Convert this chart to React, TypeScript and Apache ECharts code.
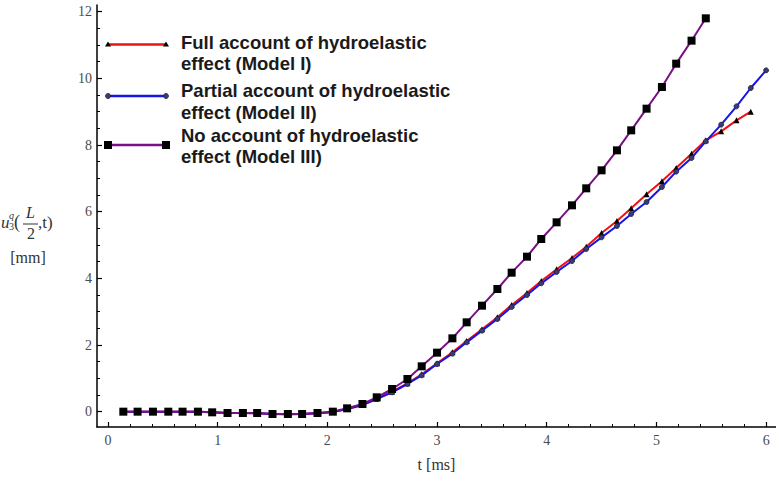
import React, { useEffect, useRef } from "react";
import * as echarts from "echarts";

// Time samples [ms]
const tValues = [
  0.14, 0.27, 0.41, 0.55, 0.68, 0.82, 0.95, 1.09, 1.23, 1.36, 1.5, 1.64, 1.77, 1.91, 2.05,
  2.18, 2.32, 2.45, 2.59, 2.73, 2.86, 3.0, 3.14, 3.27, 3.41, 3.55, 3.68, 3.82, 3.95, 4.09,
  4.23, 4.36, 4.5, 4.64, 4.77, 4.91, 5.05, 5.18, 5.32, 5.45, 5.59, 5.73, 5.86, 6.0,
];

// Deflection at mid-span [mm]
const modelI = [
  0, 0, 0, 0, 0, 0, -0.02, -0.04, -0.04, -0.05, -0.07, -0.08, -0.07, -0.05, -0.01, 0.08, 0.2,
  0.39, 0.6, 0.85, 1.12, 1.45, 1.78, 2.12, 2.47, 2.83, 3.2, 3.56, 3.92, 4.27, 4.61, 4.95, 5.36,
  5.72, 6.1, 6.52, 6.91, 7.31, 7.74, 8.14, 8.41, 8.74, 9.0,
];
const modelII = [
  0, 0, 0, 0, 0, 0, -0.02, -0.04, -0.04, -0.05, -0.07, -0.08, -0.07, -0.05, -0.01, 0.08, 0.2,
  0.38, 0.58, 0.83, 1.09, 1.43, 1.74, 2.08, 2.43, 2.78, 3.14, 3.5, 3.85, 4.19, 4.52, 4.88, 5.23,
  5.57, 5.93, 6.29, 6.74, 7.2, 7.61, 8.11, 8.61, 9.16, 9.71, 10.24,
];
const modelIII = [
  0, 0, 0, 0, 0, 0, -0.02, -0.04, -0.04, -0.04, -0.07, -0.07, -0.07, -0.04, 0.0, 0.1, 0.23,
  0.43, 0.68, 0.98, 1.36, 1.77, 2.2, 2.68, 3.18, 3.68, 4.17, 4.65, 5.18, 5.68, 6.19, 6.7, 7.24,
  7.84, 8.44, 9.09, 9.74, 10.44, 11.13, 11.8,
];

const seriesNames = [
  ["Full account of hydroelastic", "effect (Model I)"],
  ["Partial account of hydroelastic", "effect (Model II)"],
  ["No account of hydroelastic", "effect (Model III)"],
];

const xMajorTicks = [0, 1, 2, 3, 4, 5, 6];
const yMajorTicks = [0, 2, 4, 6, 8, 10, 12];

const RED = "#ee1111";
const BLUE = "#1515e6";
const PURPLE = "#7a0f86";
const CIRCLE_FILL = "#3b3b6e";

const pairs = (vals: number[]) => vals.map((v, i) => [tValues[i], v]);

const X_MIN = -0.1;
const X_MAX = 6.09;
const Y_MIN = -0.46;
const Y_MAX = 12.2;

const serif = "'Liberation Serif', 'DejaVu Serif', serif";
const sans = "'Liberation Sans', Arial, sans-serif";

function legendEntry(idx: number, cy: number, marker: any[], textTop: number, color: string) {
  return [
    {
      type: "line",
      shape: { x1: 108, y1: cy, x2: 166, y2: cy },
      style: { stroke: color, lineWidth: 2.5 },
      z: 10,
    },
    ...marker,
    {
      type: "text",
      x: 181,
      y: textTop,
      style: {
        text: seriesNames[idx].join("\n"),
        font: `bold 18.5px ${sans}`,
        fill: "#1a1a1a",
        lineHeight: 21.5,
        verticalAlign: "middle",
      },
      z: 10,
    },
  ];
}

function tri(cx: number, cy: number) {
  return {
    type: "polygon",
    shape: { points: [[cx, cy - 3], [cx - 3, cy + 2], [cx + 3, cy + 2]] },
    style: { fill: "#000" },
    z: 11,
  };
}
function circ(cx: number, cy: number) {
  return {
    type: "circle",
    shape: { cx, cy, r: 2.5 },
    style: { fill: CIRCLE_FILL, stroke: "#202040", lineWidth: 0.8 },
    z: 11,
  };
}
function sq(cx: number, cy: number) {
  return {
    type: "rect",
    shape: { x: cx - 4, y: cy - 4, width: 8, height: 8 },
    style: { fill: "#000" },
    z: 11,
  };
}

export default function App() {
  const ref = useRef<HTMLDivElement>(null);

  useEffect(() => {
    if (!ref.current) return;
    const chart = echarts.init(ref.current, undefined, { renderer: "svg" });

    const labelStyle = { fontFamily: serif, fontSize: 14, color: "#4a4a4a" };

    const option: any = {
      animation: false,
      backgroundColor: "#ffffff",
      grid: { left: 97, right: 0, top: 5, bottom: 55, containLabel: false },
      xAxis: {
        type: "value",
        min: X_MIN,
        max: X_MAX,
        splitNumber: 6, // nice step of 1 ms; minor ticks split it in 5
        name: "t [ms]",
        nameLocation: "middle",
        nameGap: 29,
        nameTextStyle: { fontFamily: serif, fontSize: 16, color: "#333" },
        axisLine: { show: true, onZero: false, lineStyle: { color: "#000", width: 1.5 } },
        axisTick: { show: true, inside: true, length: 5, customValues: xMajorTicks, lineStyle: { color: "#000", width: 1.2 } },
        minorTick: { show: true, splitNumber: 5, length: 3, lineStyle: { color: "#000", width: 1 } },
        axisLabel: { show: true, customValues: xMajorTicks, margin: 6, ...labelStyle },
        splitLine: { show: false },
        minorSplitLine: { show: false },
      },
      yAxis: {
        type: "value",
        min: Y_MIN,
        max: Y_MAX,
        splitNumber: 6, // nice step of 2 mm; minor ticks split it in 4
        axisLine: { show: true, onZero: false, lineStyle: { color: "#000", width: 1.5 } },
        axisTick: { show: true, inside: true, length: 5, customValues: yMajorTicks, lineStyle: { color: "#000", width: 1.2 } },
        minorTick: { show: true, splitNumber: 4, length: 3, lineStyle: { color: "#000", width: 1 } },
        axisLabel: { show: true, customValues: yMajorTicks, margin: 5, ...labelStyle },
        splitLine: { show: false },
        minorSplitLine: { show: false },
      },
      series: [
        {
          name: seriesNames[0].join(" "),
          type: "line",
          data: pairs(modelI),
          lineStyle: { color: RED, width: 2 },
          itemStyle: { color: "#000" },
          symbol: "triangle",
          symbolSize: 6,
          showAllSymbol: true,
          z: 2,
        },
        {
          name: seriesNames[1].join(" "),
          type: "line",
          data: pairs(modelII),
          lineStyle: { color: BLUE, width: 2 },
          itemStyle: { color: CIRCLE_FILL, borderColor: "#202040", borderWidth: 0.8 },
          symbol: "circle",
          symbolSize: 5,
          showAllSymbol: true,
          z: 3,
        },
        {
          name: seriesNames[2].join(" "),
          type: "line",
          data: pairs(modelIII),
          lineStyle: { color: PURPLE, width: 2 },
          itemStyle: { color: "#000" },
          symbol: "rect",
          symbolSize: 8,
          showAllSymbol: true,
          z: 4,
        },
      ],
      graphic: [
        // legend
        ...legendEntry(0, 44.5, [tri(108, 44.5), tri(166, 44.5)], 53, RED),
        ...legendEntry(1, 96, [circ(108, 96), circ(166, 96)], 101.5, BLUE),
        ...legendEntry(2, 145, [sq(108, 145), sq(166, 145)], 146, PURPLE),
        // y-axis title: u_3^q(L/2,t) [mm]
        { type: "text", x: 1, y: 222, style: { text: "u", font: `italic 17px ${serif}`, fill: "#333", verticalAlign: "middle" } },
        { type: "text", x: 9, y: 215, style: { text: "q", font: `italic 10px ${serif}`, fill: "#333", verticalAlign: "middle" } },
        { type: "text", x: 9, y: 226, style: { text: "3", font: `10px ${serif}`, fill: "#333", verticalAlign: "middle" } },
        { type: "text", x: 14, y: 222, style: { text: "(", font: `18px ${serif}`, fill: "#333", verticalAlign: "middle" } },
        { type: "text", x: 30.5, y: 212, style: { text: "L", font: `italic 16px ${serif}`, fill: "#333", align: "center", verticalAlign: "middle" } },
        { type: "line", shape: { x1: 23, y1: 224, x2: 38, y2: 224 }, style: { stroke: "#333", lineWidth: 1 } },
        { type: "text", x: 31, y: 233, style: { text: "2", font: `16px ${serif}`, fill: "#333", align: "center", verticalAlign: "middle" } },
        { type: "text", x: 38, y: 222, style: { text: ",t)", font: `17px ${serif}`, fill: "#333", verticalAlign: "middle" } },
        { type: "text", x: 28, y: 257, style: { text: "[mm]", font: `16px ${serif}`, fill: "#333", align: "center", verticalAlign: "middle" } },
      ],
    };

    chart.setOption(option);
    return () => chart.dispose();
  }, []);

  return (
    <div
      ref={ref}
      style={{ position: "fixed", left: 0, top: 0, width: 776, height: 482, background: "#fff" }}
    />
  );
}
